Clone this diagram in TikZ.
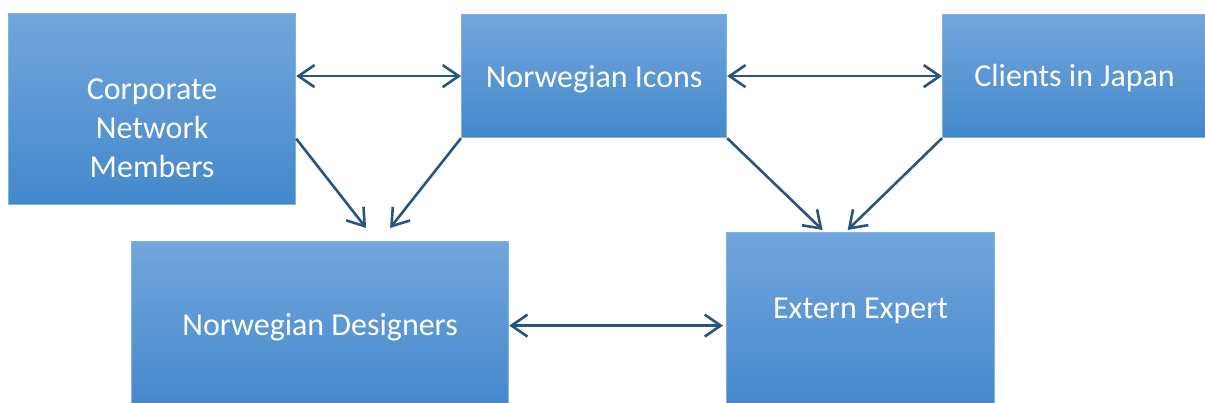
\documentclass[tikz,border=0pt]{standalone}
\usepackage{fontspec}
\setmainfont{Carlito}
\usetikzlibrary{arrows.meta,calc}
\definecolor{boxtop}{RGB}{114,166,221}
\definecolor{boxbottom}{RGB}{68,136,203}
\definecolor{boxline}{RGB}{130,178,226}
\definecolor{linkcol}{RGB}{40,84,128}
\tikzset{
  box/.style={rectangle, anchor=north west, inner sep=0pt, draw=boxline, line width=1.2pt,
    top color=boxtop, bottom color=boxbottom},
  caption/.style={text=white, align=center, inner sep=0pt,
    font=\fontsize{32}{39}\selectfont},
  link/.style={draw=linkcol, line width=2.6pt,
    arrows={Straight Barb[length=16pt,width=22pt,line width=2.6pt]-Straight Barb[length=16pt,width=22pt,line width=2.6pt]}},
  onelink/.style={draw=linkcol, line width=2.6pt,
    arrows={-Straight Barb[length=16pt,width=22pt,line width=2.6pt]}}
}
\begin{document}
\begin{tikzpicture}[x=1pt,y=-1pt]
\useasboundingbox (0,0) rectangle (1205,403);
\clip (0,0) rectangle (1205,403);
% boxes, each with its caption
\node[box, minimum width=287pt, minimum height=191pt,
  label={[caption, yshift=-19.5pt]center:Corporate\\Network\\Members}] (cnm) at (8,13) {};
\node[box, minimum width=265pt, minimum height=123pt,
  label={[caption, yshift=-3pt]center:Norwegian Icons}] (icons) at (461,14) {};
\node[box, minimum width=264pt, minimum height=123pt,
  label={[caption, yshift=-2pt]center:Clients in Japan}] (clients) at (942,14) {};
\node[box, minimum width=377pt, minimum height=168pt,
  label={[caption, yshift=-1.5pt]center:Norwegian Designers}] (designers) at (131,241) {};
\node[box, minimum width=268pt, minimum height=175pt,
  label={[caption, yshift=9pt]center:Extern Expert}] (expert) at (726,232) {};
% connectors
\draw[link] (cnm.east |- icons.west) -- (icons.west);
\draw[link] (icons.east) -- (clients.west);
\draw[link] (designers.east) -- ([xshift=-3pt]expert.west |- designers.east);
\coordinate (d1) at ($(designers.north)+(46,-13)$);
\coordinate (d2) at ($(designers.north)+(70,-13)$);
\coordinate (e1) at ($(expert.north)+(-38,-2)$);
\coordinate (e2) at ($(expert.north)+(-13,-2)$);
\draw[onelink] ($(cnm.north east)!0.654!(cnm.south east)$) -- (d1);
\draw[onelink] (icons.south west) -- (d2);
\draw[onelink] (icons.south east) -- (e1);
\draw[onelink] (clients.south west) -- (e2);
\end{tikzpicture}
\end{document}
